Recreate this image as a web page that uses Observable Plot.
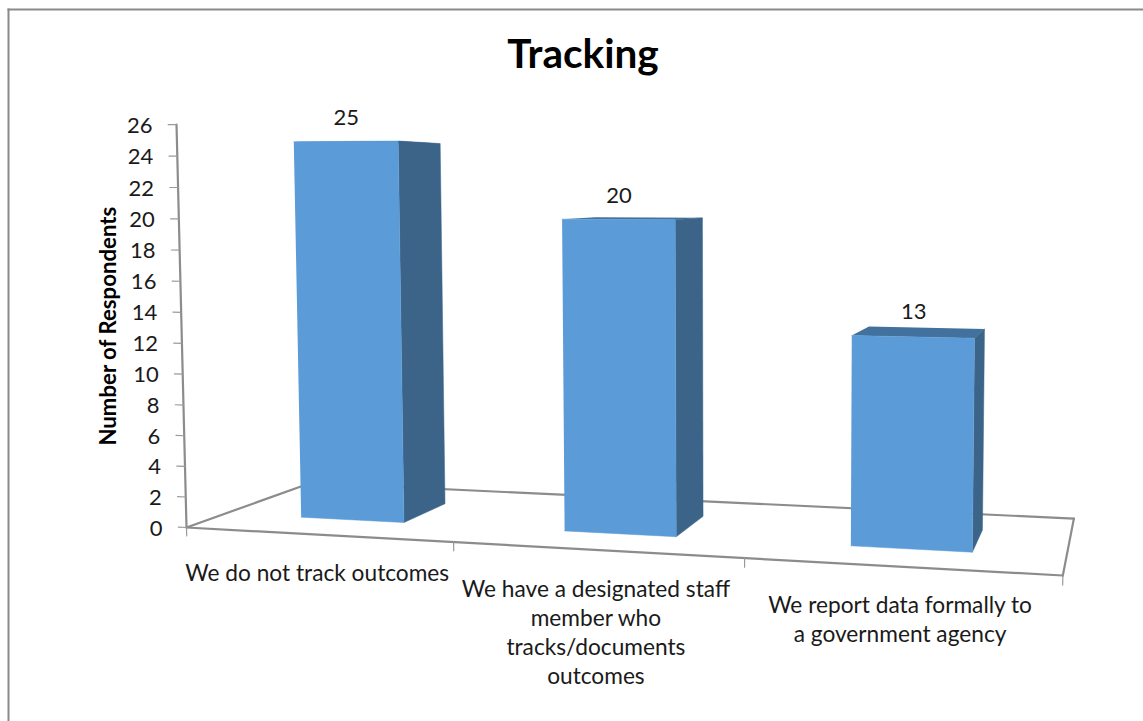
<!DOCTYPE html>
<html>
<head>
<meta charset="utf-8">
<style>
  html, body { margin: 0; padding: 0; background: #fff; overflow: hidden; }
  svg { display: block; }
</style>
<script src="https://cdn.jsdelivr.net/npm/d3@7"></script>
<script src="https://cdn.jsdelivr.net/npm/@observablehq/plot@0.6"></script>
</head>
<body>
<script>
const chartTitle = "Tracking";
const yAxisTitle = "Number of Respondents";
const categories = [
  "We do not track outcomes",
  "We have a designated staff\nmember who\ntracks/documents\noutcomes",
  "We report data formally to\na government agency"
];
const respondents = [25, 20, 13];
const yTicks = [0, 2, 4, 6, 8, 10, 12, 14, 16, 18, 20, 22, 24, 26];
const fontFamily = "Lato, 'Open Sans', sans-serif";

// Perspective camera of the 3-D column chart:
// u = category position, v = depth (0 front, 1 back), h = value.
function project(u, v, h) {
  const w = 1 - 0.04105 * u + 0.15 * v - 0.00067 * h;
  return [
    (186 + 248.5 * u + 170.7 * v - 0.502 * h) / w,
    (527 - 7.6 * u + 27.8 * v - 15.58 * h) / w
  ];
}
const pt = (u, v, h, extra = {}) => {
  const [px, py] = project(u, v, h);
  return {px, py, ...extra};
};
const polyline = (id, corners) => corners.map(([u, v, h]) => pt(u, v, h, {id}));

const nCat = categories.length;
const barU = [0.3, 0.7];
const barV = [0.29, 0.69];

const frontFaces = [], sideFaces = [], topFaces = [];
respondents.forEach((value, i) => {
  const [u0, u1] = [i + barU[0], i + barU[1]];
  const [v0, v1] = barV;
  frontFaces.push(...polyline(i, [[u0, v0, 0], [u1, v0, 0], [u1, v0, value], [u0, v0, value]]));
  sideFaces.push(...polyline(i, [[u1, v0, 0], [u1, v1, 0], [u1, v1, value], [u1, v0, value]]));
  topFaces.push(...polyline(i, [[u0, v0, value], [u1, v0, value], [u1, v1, value], [u0, v1, value]]));
});

const floor = [
  ...polyline("left", [[0, 1, 0], [0, 0, 0]]),
  ...polyline("front", [[0, 0, 0], [nCat, 0, 0]]),
  ...polyline("right", [[nCat, 0, 0], [nCat, 1, 0]]),
  ...polyline("back", [[nCat, 1, 0], [0, 1, 0]]),
  ...polyline("axis", [[0, 0, 0], [0, 0, d3.max(yTicks)]])
];
const yTickLines = yTicks.flatMap(t => polyline("y" + t, [[0, 0, t], [-0.032, 0, t]]));
const xTickLines = d3.range(nCat + 1).flatMap(i => polyline("x" + i, [[i, 0, 0], [i, 0, -0.55]]));
const yLabels = yTicks.map(t => pt(0, 0, t, {label: String(t)}));
const barLabels = respondents.map((value, i) => pt(i + 0.5, barV[0], value + 1.5, {label: String(value)}));
const catLabels = categories.map((label, i) => pt(i + 0.5, 0, 0, {label}));
const axisTitlePos = [pt(-0.29, 0, 13, {label: yAxisTitle})];

const lineOpts = {x: "px", y: "py", z: "id", curve: "linear"};
const chart = Plot.plot({
  width: 1143,
  height: 721,
  marginLeft: 8,
  marginTop: 9,
  marginRight: 0,
  marginBottom: 0,
  style: {background: "#fff", fontFamily},
  x: {type: "linear", domain: [0, 1143], range: [0, 1143], axis: null},
  y: {type: "linear", domain: [0, 721], range: [0, 721], axis: null},
  marks: [
    Plot.frame({anchor: "left", stroke: "#8a8a8a", strokeWidth: 2}),
    Plot.frame({anchor: "top", stroke: "#8a8a8a", strokeWidth: 2}),
    Plot.line(floor, {...lineOpts, stroke: "#8c8c8c", strokeWidth: 2.2}),
    Plot.line(yTickLines, {...lineOpts, stroke: "#9a9a9a", strokeWidth: 1.2}),
    Plot.line(xTickLines, {...lineOpts, stroke: "#9a9a9a", strokeWidth: 1.2}),
    Plot.line(topFaces, {...lineOpts, fill: "#41719c", stroke: "none"}),
    Plot.line(sideFaces, {...lineOpts, fill: "#3b6488", stroke: "#3b6488", strokeWidth: 0.5}),
    Plot.line(frontFaces, {...lineOpts, fill: "#5b9bd7", stroke: "#5b9bd7", strokeWidth: 0.5}),
    Plot.text(yLabels, {x: "px", y: "py", text: "label", textAnchor: "end", dx: -24, dy: 1, fontSize: 22, fill: "#1a1a1a"}),
    Plot.text(barLabels, {x: "px", y: "py", text: "label", dx: 1, fontSize: 22, fill: "#1a1a1a"}),
    Plot.text(catLabels, {x: "px", y: "py", text: "label", lineAnchor: "top", dy: 26, lineHeight: 1.28, fontSize: 22.7, fill: "#1a1a1a"}),
    Plot.text(axisTitlePos, {x: "px", y: "py", text: "label", dx: 1, rotate: -90, fontSize: 22.2, fontWeight: 700, fill: "#000"}),
    Plot.text([chartTitle], {text: d => d, frameAnchor: "top", dx: 7, dy: 30, fontSize: 40.5, fontWeight: 700, fill: "#000"})
  ]
});
document.body.appendChild(chart);
</script>
</body>
</html>
